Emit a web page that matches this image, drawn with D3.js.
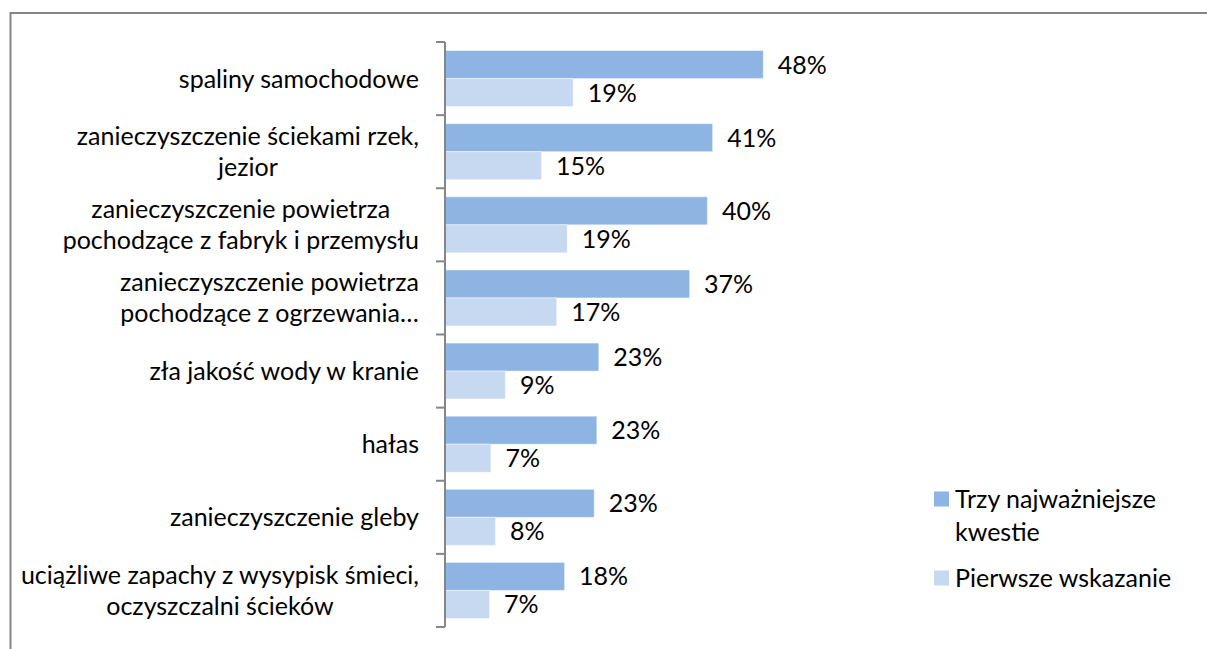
<!DOCTYPE html>
<html>
<head>
<meta charset="utf-8">
<script src="https://cdn.jsdelivr.net/npm/d3@7"></script>
<style>
  html, body { margin: 0; padding: 0; background: #fff; }
  svg { display: block; }
  text { font-family: Lato, 'Open Sans', sans-serif; fill: #000; }
</style>
</head>
<body>
<div id="chart"></div>
<script>
const categories = [
  'spaliny samochodowe',
  'zanieczyszczenie ściekami rzek, jezior',
  'zanieczyszczenie powietrza pochodzące z fabryk i przemysłu',
  'zanieczyszczenie powietrza pochodzące z ogrzewania…',
  'zła jakość wody w kranie',
  'hałas',
  'zanieczyszczenie gleby',
  'uciążliwe zapachy z wysypisk śmieci, oczyszczalni ścieków',
]
// wrapped lines of the category labels, as in the picture
const categoryLines = [
  ['spaliny samochodowe'],
  ['zanieczyszczenie ściekami rzek,', 'jezior'],
  ['zanieczyszczenie powietrza', 'pochodzące z fabryk i przemysłu'],
  ['zanieczyszczenie powietrza', 'pochodzące z ogrzewania…'],
  ['zła jakość wody w kranie'],
  ['hałas'],
  ['zanieczyszczenie gleby'],
  ['uciążliwe zapachy z wysypisk śmieci,', 'oczyszczalni ścieków'],
]
const seriesNames = ['Trzy najważniejsze kwestie', 'Pierwsze wskazanie']
const legendLines = [['Trzy najważniejsze', 'kwestie'], ['Pierwsze wskazanie']]
const topThree = [48.3, 40.6, 39.8, 37.1, 23.3, 23.0, 22.6, 18.1]
const firstChoice = [19.4, 14.6, 18.5, 16.9, 9.1, 6.9, 7.6, 6.7]
const colors = ['#8eb4e3', '#c6d9f1']

const width = 1207
const height = 649
const fontSize = 25

const svg = d3.select('#chart')
  .append('svg')
  .attr('width', width)
  .attr('height', height)

// outer chart frame
svg.append('rect')
  .attr('x', 10.5)
  .attr('y', 13)
  .attr('width', 1210)
  .attr('height', 660)
  .attr('fill', 'none')
  .attr('stroke', '#868686')
  .attr('stroke-width', 2)

const axisX = 445
const xScale = d3.scaleLinear().domain([0, 60]).range([axisX, axisX + 394.8])
const yScale = d3.scaleBand().domain(categories).range([42, 627])
const bw = yScale.bandwidth()
const ySub = d3.scaleBand().domain(seriesNames).range([bw * 0.117, bw * 0.883])

const rows = categories.map((c, i) => ({
  category: c,
  lines: categoryLines[i],
  values: [
    { series: seriesNames[0], value: topThree[i], color: colors[0] },
    { series: seriesNames[1], value: firstChoice[i], color: colors[1] },
  ],
}))

const groups = svg.append('g')
  .selectAll('g')
  .data(rows)
  .join('g')
  .attr('transform', d => `translate(0,${yScale(d.category)})`)

groups.selectAll('rect')
  .data(d => d.values)
  .join('rect')
  .attr('x', xScale(0) + 0.5)
  .attr('y', d => ySub(d.series))
  .attr('width', d => xScale(d.value) - xScale(0))
  .attr('height', ySub.bandwidth())
  .attr('fill', d => d.color)
  .attr('stroke', 'rgba(255,255,255,0.45)')
  .attr('stroke-width', 1)

groups.selectAll('text.value')
  .data(d => d.values)
  .join('text')
  .attr('class', 'value')
  .attr('x', d => xScale(d.value) + 15)
  .attr('y', d => ySub(d.series) + ySub.bandwidth() / 2)
  .attr('dy', '0.36em')
  .style('font-size', `${fontSize}px`)
  .text(d => `${Math.round(d.value)}%`)

// axis with ticks at the category boundaries
const axis = svg.append('g').attr('stroke', '#868686').attr('stroke-width', 2)
axis.append('line')
  .attr('x1', axisX).attr('x2', axisX)
  .attr('y1', 42).attr('y2', 627)
const boundaries = categories.map(c => yScale(c)).concat([627])
axis.selectAll('line.tick')
  .data(boundaries)
  .join('line')
  .attr('class', 'tick')
  .attr('x1', axisX - 9).attr('x2', axisX)
  .attr('y1', d => d).attr('y2', d => d)

// category labels: each block right-aligned, lines centred in the block
const lineHeight = 31
const labels = svg.append('g')
labels.selectAll('g')
  .data(rows)
  .join('g')
  .each(function (d) {
    const g = d3.select(this)
    const cy = yScale(d.category) + bw / 2
    const texts = g.selectAll('text')
      .data(d.lines)
      .join('text')
      .attr('text-anchor', 'middle')
      .attr('y', (l, j) => cy + (j - (d.lines.length - 1) / 2) * lineHeight)
      .attr('dy', '0.36em')
      .style('font-size', `${fontSize}px`)
      .text(l => l)
    const maxW = d3.max(texts.nodes(), n => n.getComputedTextLength())
    texts.attr('x', 419 - maxW / 2)
  })

// legend
const legend = svg.append('g')
const legendY = [499, 578]
legendLines.forEach((lines, i) => {
  legend.append('rect')
    .attr('x', 934)
    .attr('y', legendY[i] - 7.5)
    .attr('width', 15)
    .attr('height', 15)
    .attr('fill', colors[i])
  lines.forEach((l, j) => {
    legend.append('text')
      .attr('x', 955)
      .attr('y', legendY[i] + j * 33)
      .attr('dy', '0.36em')
      .style('font-size', `${fontSize}px`)
      .text(l)
  })
})
</script>
</body>
</html>
